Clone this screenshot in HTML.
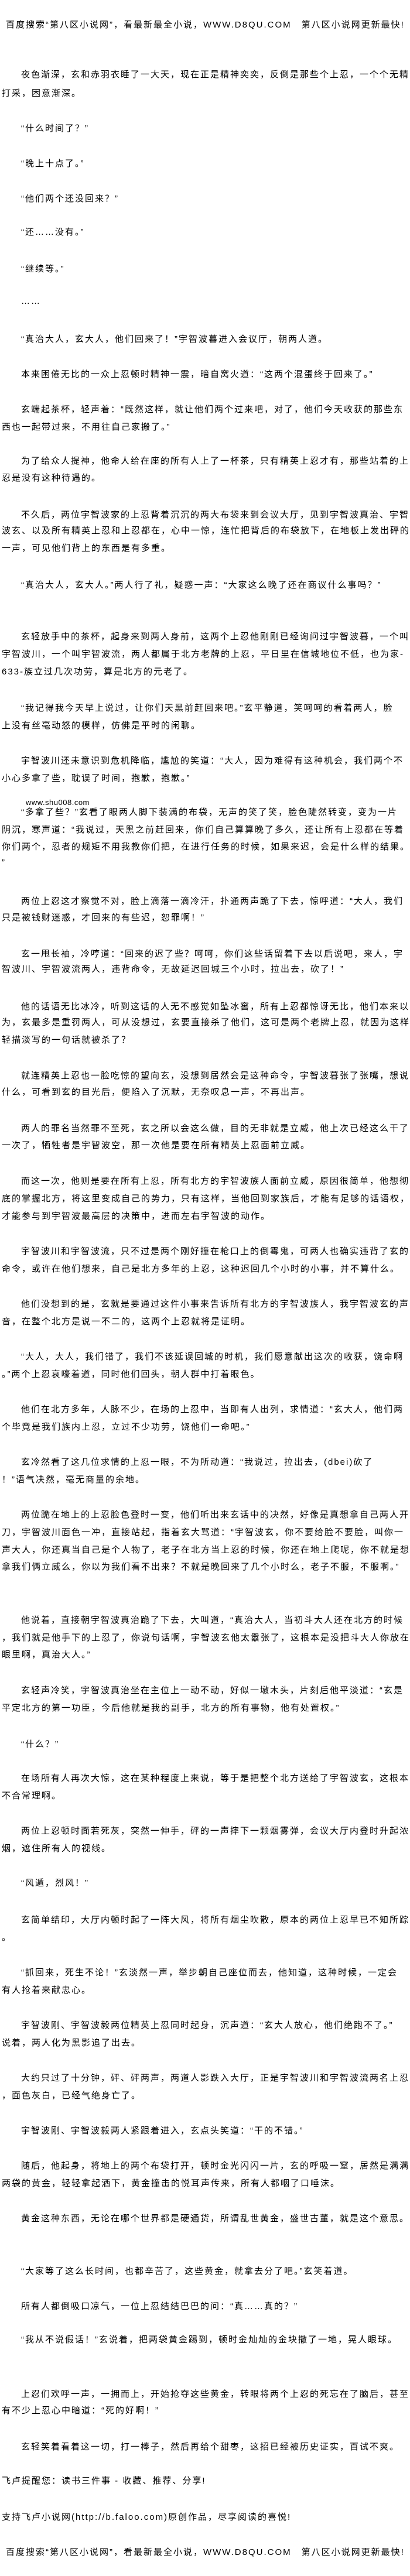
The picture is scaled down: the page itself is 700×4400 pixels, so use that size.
<!DOCTYPE html>
<html><head><meta charset="utf-8">
<style>
html,body{margin:0;padding:0;background:#fff;}
body{width:700px;height:4400px;position:relative;overflow:hidden;}
.l{position:absolute;height:30px;line-height:30px;white-space:nowrap;color:#000;
font-family:"Liberation Sans","Noto Sans CJK SC","WenQuanYi Zen Hei",sans-serif;font-size:15px;letter-spacing:2px;}
</style></head><body>
<div class="l" style="top:28px;left:10px">百度搜索“第八区小说网”，看最新最全小说，WWW.D8QU.COM　第八区小说网更新最快!</div>
<div class="l" style="top:113px;left:36px">夜色渐深，玄和赤羽衣睡了一大天，现在正是精神奕奕，反倒是那些个上忍，一个个无精</div>
<div class="l" style="top:145px;left:3px">打采，困意渐深。</div>
<div class="l" style="top:205px;left:36px">“什么时间了？”</div>
<div class="l" style="top:265px;left:36px">“晚上十点了。”</div>
<div class="l" style="top:325px;left:36px">“他们两个还没回来？”</div>
<div class="l" style="top:382px;left:36px">“还……没有。”</div>
<div class="l" style="top:445px;left:36px">“继续等。”</div>
<div class="l" style="top:500px;left:36px">……</div>
<div class="l" style="top:565px;left:36px">“真治大人，玄大人，他们回来了！”宇智波暮进入会议厅，朝两人道。</div>
<div class="l" style="top:625px;left:36px">本来困倦无比的一众上忍顿时精神一震，暗自窝火道：“这两个混蛋终于回来了。”</div>
<div class="l" style="top:685px;left:36px">玄端起茶杯，轻声着：“既然这样，就让他们两个过来吧，对了，他们今天收获的那些东</div>
<div class="l" style="top:715px;left:3px">西也一起带过来，不用往自己家搬了。”</div>
<div class="l" style="top:773px;left:36px">为了给众人提神，他命人给在座的所有人上了一杯茶，只有精英上忍才有，那些站着的上</div>
<div class="l" style="top:802px;left:3px">忍是没有这种待遇的。</div>
<div class="l" style="top:865px;left:36px">不久后，两位宇智波家的上忍背着沉沉的两大布袋来到会议大厅，见到宇智波真治、宇智</div>
<div class="l" style="top:892px;left:3px">波玄、以及所有精英上忍和上忍都在，心中一惊，连忙把背后的布袋放下，在地板上发出砰的</div>
<div class="l" style="top:922px;left:3px">一声，可见他们背上的东西是有多重。</div>
<div class="l" style="top:985px;left:36px">“真治大人，玄大人。”两人行了礼，疑惑一声：“大家这么晚了还在商议什么事吗？”</div>
<div class="l" style="top:1073px;left:36px">玄轻放手中的茶杯，起身来到两人身前，这两个上忍他刚刚已经询问过宇智波暮，一个叫</div>
<div class="l" style="top:1103px;left:3px">宇智波川，一个叫宇智波流，两人都属于北方老牌的上忍，平日里在信城地位不低，也为家-</div>
<div class="l" style="top:1133px;left:3px">633-族立过几次功劳，算是北方的元老了。</div>
<div class="l" style="top:1195px;left:36px">“我记得我今天早上说过，让你们天黑前赶回来吧。”玄平静道，笑呵呵的看着两人，脸</div>
<div class="l" style="top:1225px;left:3px">上没有丝毫动怒的模样，仿佛是平时的闲聊。</div>
<div class="l" style="top:1285px;left:36px">宇智波川还未意识到危机降临，尴尬的笑道：“大人，因为难得有这种机会，我们两个不</div>
<div class="l" style="top:1315px;left:3px">小心多拿了些，耽误了时间，抱歉，抱歉。”</div>
<div class="l" style="top:1356px;left:44px;font-size:13px;letter-spacing:0.5px">www.shu008.com</div>
<div class="l" style="top:1373px;left:36px">“多拿了些？”玄看了眼两人脚下装满的布袋，无声的笑了笑，脸色陡然转变，变为一片</div>
<div class="l" style="top:1403px;left:3px">阴沉，寒声道：“我说过，天黑之前赶回来，你们自己算算晚了多久，还让所有上忍都在等着</div>
<div class="l" style="top:1432px;left:3px">你们两个，忍者的规矩不用我教你们把，在进行任务的时候，如果来迟，会是什么样的结果。</div>
<div class="l" style="top:1459px;left:3px">”</div>
<div class="l" style="top:1525px;left:36px">两位上忍这才察觉不对，脸上滴落一滴冷汗，扑通两声跪了下去，惊呼道：“大人，我们</div>
<div class="l" style="top:1553px;left:3px">只是被钱财迷惑，才回来的有些迟，恕罪啊！”</div>
<div class="l" style="top:1615px;left:36px">玄一甩长袖，冷哼道：“回来的迟了些？呵呵，你们这些话留着下去以后说吧，来人，宇</div>
<div class="l" style="top:1641px;left:3px">智波川、宇智波流两人，违背命令，无故延迟回城三个小时，拉出去，砍了！”</div>
<div class="l" style="top:1705px;left:36px">他的话语无比冰冷，听到这话的人无不感觉如坠冰窖，所有上忍都惊讶无比，他们本来以</div>
<div class="l" style="top:1732px;left:3px">为，玄最多是重罚两人，可从没想过，玄要直接杀了他们，这可是两个老牌上忍，就因为这样</div>
<div class="l" style="top:1762px;left:3px">轻描淡写的一句话就被杀了？</div>
<div class="l" style="top:1823px;left:36px">就连精英上忍也一脸吃惊的望向玄，没想到居然会是这种命令，宇智波暮张了张嘴，想说</div>
<div class="l" style="top:1851px;left:3px">什么，可看到玄的目光后，便陷入了沉默，无奈叹息一声，不再出声。</div>
<div class="l" style="top:1913px;left:36px">两人的罪名当然罪不至死，玄之所以会这么做，目的无非就是立威，他上次已经这么干了</div>
<div class="l" style="top:1942px;left:3px">一次了，牺牲者是宇智波空，那一次他是要在所有精英上忍面前立威。</div>
<div class="l" style="top:2003px;left:36px">而这一次，他则是要在所有上忍，所有北方的宇智波族人面前立威，原因很简单，他想彻</div>
<div class="l" style="top:2033px;left:3px">底的掌握北方，将这里变成自己的势力，只有这样，当他回到家族后，才能有足够的话语权，</div>
<div class="l" style="top:2063px;left:3px">才能参与到宇智波最高层的决策中，进而左右宇智波的动作。</div>
<div class="l" style="top:2123px;left:36px">宇智波川和宇智波流，只不过是两个刚好撞在枪口上的倒霉鬼，可两人也确实违背了玄的</div>
<div class="l" style="top:2153px;left:3px">命令，或许在他们想来，自己是北方多年的上忍，这种迟回几个小时的小事，并不算什么。</div>
<div class="l" style="top:2213px;left:36px">他们没想到的是，玄就是要通过这件小事来告诉所有北方的宇智波族人，我宇智波玄的声</div>
<div class="l" style="top:2243px;left:3px">音，在整个北方是说一不二的，这两个上忍就将是证明。</div>
<div class="l" style="top:2303px;left:36px">“大人，大人，我们错了，我们不该延误回城的时机，我们愿意献出这次的收获，饶命啊</div>
<div class="l" style="top:2333px;left:3px">。”两个上忍哀嚎着道，同时他们回头，朝人群中打着眼色。</div>
<div class="l" style="top:2393px;left:36px">他们在北方多年，人脉不少，在场的上忍中，当即有人出列，求情道：“玄大人，他们两</div>
<div class="l" style="top:2423px;left:3px">个毕竟是我们族内上忍，立过不少功劳，饶他们一命吧。”</div>
<div class="l" style="top:2483px;left:36px">玄冷然看了这几位求情的上忍一眼，不为所动道：“我说过，拉出去，(dbei)砍了</div>
<div class="l" style="top:2513px;left:3px">！”语气决然，毫无商量的余地。</div>
<div class="l" style="top:2573px;left:36px">两位跪在地上的上忍脸色登时一变，他们听出来玄话中的决然，好像是真想拿自己两人开</div>
<div class="l" style="top:2603px;left:3px">刀，宇智波川面色一冲，直接站起，指着玄大骂道：“宇智波玄，你不要给脸不要脸，叫你一</div>
<div class="l" style="top:2633px;left:3px">声大人，你还真当自己是个人物了，老子在北方当上忍的时候，你还在地上爬呢，你不就是想</div>
<div class="l" style="top:2662px;left:3px">拿我们俩立威么，你以为我们看不出来？不就是晚回来了几个小时么，老子不服，不服啊。”</div>
<div class="l" style="top:2753px;left:36px">他说着，直接朝宇智波真治跪了下去，大叫道，“真治大人，当初斗大人还在北方的时候</div>
<div class="l" style="top:2783px;left:3px">，我们就是他手下的上忍了，你说句话啊，宇智波玄他太嚣张了，这根本是没把斗大人你放在</div>
<div class="l" style="top:2812px;left:3px">眼里啊，真治大人。”</div>
<div class="l" style="top:2873px;left:36px">玄轻声冷笑，宇智波真治坐在主位上一动不动，好似一墩木头，片刻后他平淡道：“玄是</div>
<div class="l" style="top:2903px;left:3px">平定北方的第一功臣，今后他就是我的副手，北方的所有事物，他有处置权。”</div>
<div class="l" style="top:2965px;left:36px">“什么？”</div>
<div class="l" style="top:3023px;left:36px">在场所有人再次大惊，这在某种程度上来说，等于是把整个北方送给了宇智波玄，这根本</div>
<div class="l" style="top:3053px;left:3px">不合常理啊。</div>
<div class="l" style="top:3113px;left:36px">两位上忍顿时面若死灰，突然一伸手，砰的一声摔下一颗烟雾弹，会议大厅内登时升起浓</div>
<div class="l" style="top:3143px;left:3px">烟，遮住所有人的视线。</div>
<div class="l" style="top:3202px;left:36px">“风遁，烈风！”</div>
<div class="l" style="top:3265px;left:36px">玄简单结印，大厅内顿时起了一阵大风，将所有烟尘吹散，原本的两位上忍早已不知所踪</div>
<div class="l" style="top:3295px;left:3px">。</div>
<div class="l" style="top:3355px;left:36px">“抓回来，死生不论！”玄淡然一声，举步朝自己座位而去，他知道，这种时候，一定会</div>
<div class="l" style="top:3385px;left:3px">有人抢着来献忠心。</div>
<div class="l" style="top:3445px;left:36px">宇智波刚、宇智波毅两位精英上忍同时起身，沉声道：“玄大人放心，他们绝跑不了。”</div>
<div class="l" style="top:3475px;left:3px">说着，两人化为黑影追了出去。</div>
<div class="l" style="top:3535px;left:36px">大约只过了十分钟，砰、砰两声，两道人影跌入大厅，正是宇智波川和宇智波流两名上忍</div>
<div class="l" style="top:3565px;left:3px">，面色灰白，已经气绝身亡了。</div>
<div class="l" style="top:3625px;left:36px">宇智波刚、宇智波毅两人紧跟着进入，玄点头笑道：“干的不错。”</div>
<div class="l" style="top:3685px;left:36px">随后，他起身，将地上的两个布袋打开，顿时金光闪闪一片，玄的呼吸一窒，居然是满满</div>
<div class="l" style="top:3715px;left:3px">两袋的黄金，轻轻拿起洒下，黄金撞击的悦耳声传来，所有人都咽了口唾沫。</div>
<div class="l" style="top:3775px;left:36px">黄金这种东西，无论在哪个世界都是硬通货，所谓乱世黄金，盛世古董，就是这个意思。</div>
<div class="l" style="top:3865px;left:36px">“大家等了这么长时间，也都辛苦了，这些黄金，就拿去分了吧。”玄笑着道。</div>
<div class="l" style="top:3925px;left:36px">所有人都倒吸口凉气，一位上忍结结巴巴的问：“真……真的？”</div>
<div class="l" style="top:3982px;left:36px">“我从不说假话！”玄说着，把两袋黄金踢到，顿时金灿灿的金块撒了一地，晃人眼球。</div>
<div class="l" style="top:4075px;left:36px">上忍们欢呼一声，一拥而上，开始抢夺这些黄金，转眼将两个上忍的死忘在了脑后，甚至</div>
<div class="l" style="top:4103px;left:3px">有不少上忍心中暗道：“死的好啊！”</div>
<div class="l" style="top:4165px;left:36px">玄轻笑着看着这一切，打一棒子，然后再给个甜枣，这招已经被历史证实，百试不爽。</div>
<div class="l" style="top:4223px;left:3px">飞卢提醒您：读书三件事 - 收藏、推荐、分享!</div>
<div class="l" style="top:4285px;left:3px">支持飞卢小说网(http://b.faloo.com)原创作品，尽享阅读的喜悦!</div>
<div class="l" style="top:4345px;left:10px">百度搜索“第八区小说网”，看最新最全小说，WWW.D8QU.COM　第八区小说网更新最快!</div>
</body></html>
